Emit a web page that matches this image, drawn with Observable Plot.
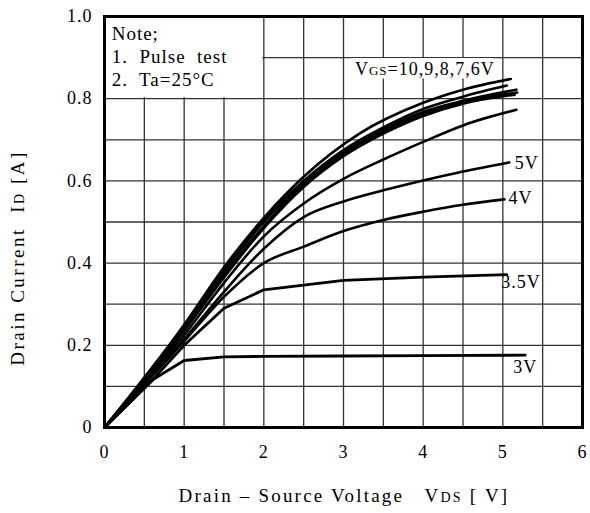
<!DOCTYPE html>
<html><head><meta charset="utf-8">
<script src="https://cdn.jsdelivr.net/npm/d3@7"></script>
<script src="https://cdn.jsdelivr.net/npm/@observablehq/plot@0.6"></script>
<style>
body{margin:0;background:#fff}
#chart svg text{letter-spacing:1px}
</style>
</head><body><div id="chart"></div>
<script>
// Axis ticks
const xTicks = [0, 1, 2, 3, 4, 5, 6];
const yTicks = [0, 0.2, 0.4, 0.6, 0.8, 1.0];
const yTickLabels = ["0", "0.2", "0.4", "0.6", "0.8", "1.0"];
const xGrid = [0.5, 1, 1.5, 2, 2.5, 3, 3.5, 4, 4.5, 5, 5.5];
const yGrid = [0.1, 0.2, 0.3, 0.4, 0.5, 0.6, 0.7, 0.8, 0.9];

// Curves: [Vds (V), Id (A)]
const vgs10 = [[0,0],[1,0.25],[1.5,0.39],[2,0.51],[2.5,0.61],[3.2,0.715],[4,0.79],[4.5,0.822],[5.1,0.848]];
const vgs9  = [[0,0],[1,0.245],[1.5,0.385],[2,0.505],[2.5,0.60],[3,0.675],[3.5,0.73],[4,0.775],[4.5,0.805],[5.05,0.832]];
const vgs8  = [[0,0],[1,0.24],[1.5,0.38],[2,0.50],[2.5,0.595],[3,0.67],[3.5,0.725],[4,0.768],[4.5,0.795],[5.17,0.822]];
const vgs7  = [[0,0],[1,0.238],[1.5,0.372],[2,0.49],[2.5,0.59],[3,0.665],[3.5,0.72],[4,0.763],[4.5,0.792],[5.18,0.815]];
const vgs6  = [[0,0],[1,0.235],[1.5,0.365],[2,0.485],[2.5,0.585],[3,0.66],[3.5,0.715],[4,0.758],[4.5,0.788],[5.15,0.81]];
const unlabeled = [[0,0],[1,0.225],[1.5,0.352],[2,0.465],[2.5,0.545],[3,0.605],[3.5,0.652],[4,0.695],[4.5,0.735],[5.17,0.773]];
const vgs5  = [[0,0],[1,0.215],[1.5,0.33],[2,0.435],[2.5,0.512],[3,0.55],[3.5,0.577],[4,0.601],[4.5,0.623],[5.08,0.645]];
const vgs4  = [[0,0],[1,0.21],[1.5,0.318],[2,0.40],[2.5,0.44],[3,0.478],[3.5,0.505],[4,0.525],[4.5,0.542],[5.02,0.555]];
const vgs3_5 = [[0,0],[0.62,0.12],[1,0.2],[1.5,0.29],[2,0.335],[3,0.358],[4,0.366],[5.05,0.372]];
const vgs3  = [[0,0],[0.62,0.118],[1,0.163],[1.5,0.172],[2,0.173],[3,0.174],[4,0.175],[5.28,0.176]];

// Curve labels
const curveLabelText = ["5V", "4V", "3.5V", "3V"];
const curveLabelV = [5.15, 5.07, 4.98, 5.13];
const curveLabelI = [0.642, 0.557, 0.353, 0.146];

// Note box text
const noteLines = ["Note;", "1.\u00a0 Pulse\u00a0 test", "2.\u00a0 Ta=25°C"];
const noteI = [0.958, 0.902, 0.845];

const smoothSets = {vgs10, vgs9, vgs8, vgs7, vgs6, unlabeled, vgs5, vgs4};
const polySets = {vgs3_5, vgs3};
const toRows = sets => Object.entries(sets).flatMap(([k, arr]) => arr.map(([v, i]) => ({series: k, v, i})));
const smoothRows = toRows(smoothSets);
const polyRows = toRows(polySets);

const FONT = "'Liberation Serif', 'DejaVu Serif', serif";
const gridColor = "#333";

const plot = Plot.plot({
  width: 590,
  height: 513,
  marginLeft: 104,
  marginRight: 8,
  marginTop: 16,
  marginBottom: 86,
  style: {fontFamily: FONT, fontSize: "18px", color: "#000", background: "#fff"},
  x: {domain: [0, 6]},
  y: {domain: [0, 1]},
  marks: [
    Plot.ruleX(xGrid, {stroke: gridColor, strokeWidth: 1.3}),
    Plot.ruleY(yGrid, {stroke: gridColor, strokeWidth: 1.3}),
    // note box (white, covering grid)
    Plot.rect([0], {x1: 0, x2: 2, y1: 0.8, y2: 1.0, fill: "#fff", insetRight: 1, insetBottom: 1}),
    // Vgs label background
    Plot.rect([0], {x1: 3.1, x2: 4.88, y1: 0.848, y2: 0.9, fill: "#fff", insetTop: 1}),
    Plot.line(smoothRows, {x: "v", y: "i", z: "series", curve: "monotone-x", stroke: "#000", strokeWidth: 2.6}),
    Plot.line(polyRows, {x: "v", y: "i", z: "series", curve: "linear", stroke: "#000", strokeWidth: 2.8}),
    Plot.text(curveLabelText, {x: (d, k) => curveLabelV[k], y: (d, k) => curveLabelI[k], text: d => d, textAnchor: "start", fontSize: 18, fill: "#000"}),
    Plot.text(noteLines, {x: 0.09, y: (d, k) => noteI[k], text: d => d, textAnchor: "start", fontSize: 19, fill: "#000"}),
    Plot.frame({stroke: "#000", strokeWidth: 3}),
    Plot.axisX({ticks: xTicks, tickSize: 0, tickPadding: 18, label: null, tickFormat: d => String(d)}),
    Plot.axisY({ticks: yTicks, tickSize: 0, tickPadding: 12, label: null, tickFormat: (d, k) => yTickLabels[k]})
  ]
});

document.getElementById("chart").appendChild(plot);

// Titles with small-caps subscripts
const svg = d3.select(plot);
const xs = plot.scale("x"), ys = plot.scale("y");

const vLab = svg.append("text")
  .attr("x", xs.apply(3.15)).attr("y", ys.apply(0.871) + 6).attr("text-anchor", "start")
  .attr("font-family", FONT).attr("font-size", 18).attr("fill", "#000");
vLab.append("tspan").text("V");
vLab.append("tspan").attr("font-size", 13).text("GS");
vLab.append("tspan").text("=10,9,8,7,6V");

const xt = svg.append("text")
  .attr("x", 344).attr("y", 502).attr("text-anchor", "middle")
  .attr("font-family", FONT).attr("font-size", 19).attr("fill", "#000")
  .style("letter-spacing", "2.2px");
xt.append("tspan").text("Drain \u2013 Source Voltage\u00a0\u00a0 V");
xt.append("tspan").attr("font-size", 14).text("DS");
xt.append("tspan").text(" [ V]");

const yt = svg.append("text")
  .attr("transform", "translate(24,258) rotate(-90)").attr("text-anchor", "middle")
  .attr("font-family", FONT).attr("font-size", 19).attr("fill", "#000")
  .style("letter-spacing", "2.5px");
yt.append("tspan").text("Drain Current\u00a0 I");
yt.append("tspan").attr("font-size", 14).text("D");
yt.append("tspan").text(" [A]");
</script>
</body></html>
